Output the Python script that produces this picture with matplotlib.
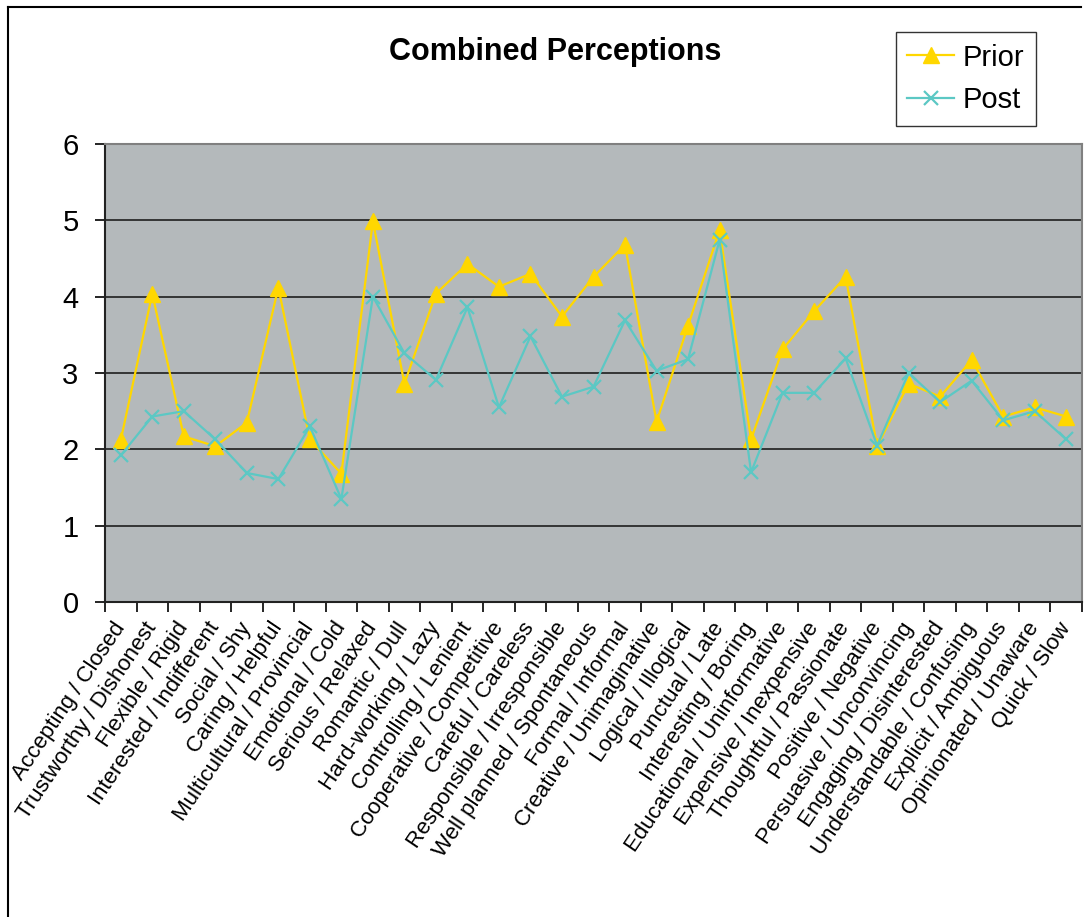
import matplotlib
matplotlib.use("Agg")
import matplotlib.pyplot as plt
from matplotlib.lines import Line2D

plt.rcParams['font.family'] = ['Liberation Sans', 'DejaVu Sans']

W, H = 1090, 917

categories = [
    "Accepting / Closed", "Trustworthy / Dishonest", "Flexible / Rigid",
    "Interested / Indifferent", "Social / Shy", "Caring / Helpful",
    "Multicultural / Provincial", "Emotional / Cold", "Serious / Relaxed",
    "Romantic / Dull", "Hard-working / Lazy", "Controlling / Lenient",
    "Cooperative / Competitive", "Careful / Careless", "Responsible / Irresponsible",
    "Well planned / Spontaneous", "Formal / Informal", "Creative / Unimaginative",
    "Logical / Illogical", "Punctual / Late", "Interesting / Boring",
    "Educational / Uninformative", "Expensive / Inexpensive", "Thoughtful / Passionate",
    "Positive / Negative", "Persuasive / Unconvincing", "Engaging / Disinterested",
    "Understandable / Confusing", "Explicit / Ambiguous", "Opinionated / Unaware",
    "Quick / Slow",
]

prior = [2.12, 4.04, 2.17, 2.04, 2.35, 4.12, 2.13, 1.68, 4.99, 2.86,
         4.04, 4.43, 4.13, 4.30, 3.74, 4.26, 4.68, 2.36, 3.62, 4.87,
         2.13, 3.31, 3.81, 4.26, 2.04, 2.86, 2.69, 3.17, 2.43, 2.55, 2.43]

post = [1.92, 2.43, 2.50, 2.13, 1.69, 1.61, 2.30, 1.35, 4.00, 3.26,
        2.91, 3.86, 2.55, 3.48, 2.69, 2.82, 3.69, 3.03, 3.18, 4.74,
        1.70, 2.74, 2.74, 3.19, 2.05, 3.00, 2.62, 2.90, 2.38, 2.50, 2.13]

yticks = [0, 1, 2, 3, 4, 5, 6]

fig = plt.figure(figsize=(W / 100, H / 100), dpi=100)
ax = fig.add_axes([105 / W, 1 - 602 / H, (1082 - 105) / W, (602 - 144) / H])
ax.set_facecolor('#B4B9BB')

x = list(range(len(categories)))
ax.plot(x, prior, color='#FFD700', lw=1.6, marker='^', ms=11,
        mec='#FFD700', mfc='#FFD700', label='Prior', zorder=3)
ax.plot(x, post, color='#5CC8C4', lw=1.6, marker='x', ms=10, mew=1.6,
        label='Post', zorder=3)

ax.set_xlim(-0.5, len(categories) - 0.5)
ax.set_ylim(0, 6)
ax.set_yticks(yticks)
ax.set_yticklabels([str(v) for v in yticks], fontsize=21)
ax.yaxis.grid(True, color='#111111', lw=1.1)
ax.set_axisbelow(True)

# ticks on category boundaries, labels at centres
ax.set_xticks([i - 0.5 for i in range(len(categories) + 1)])
ax.set_xticklabels([])
ax.set_xticks(x, minor=True)
ax.set_xticklabels(categories, minor=True, rotation=56, ha='right', va='center',
                   rotation_mode='anchor', fontsize=16)
ax.tick_params(axis='x', which='minor', length=0, pad=16)
ax.tick_params(axis='x', which='major', length=7, width=1.2, direction='out')
ax.tick_params(axis='y', length=7, width=1.2, direction='out', pad=12)

for side in ['left', 'bottom']:
    ax.spines[side].set_color('#222222')
    ax.spines[side].set_linewidth(1.5)
for side in ['top', 'right']:
    ax.spines[side].set_color('#808080')
    ax.spines[side].set_linewidth(1.5)

fig.text(555 / W, 1 - 52 / H, "Combined Perceptions", fontsize=22,
         fontweight='bold', ha='center', va='center')

leg = fig.legend(loc='upper right', bbox_to_anchor=(1036 / W, 1 - 32 / H),
                 fontsize=21, frameon=True, fancybox=False, handlelength=1.6,
                 borderpad=0.4, labelspacing=0.5, handletextpad=0.3,
                 borderaxespad=0)
leg.get_frame().set_edgecolor('black')
leg.get_frame().set_linewidth(1.0)

# outer chart frame (partly cropped in the original)
fig.add_artist(Line2D([8 / W, 8 / W], [0, 1 - 7 / H], color='black', lw=1.5))
fig.add_artist(Line2D([8 / W, 1081 / W], [1 - 7 / H, 1 - 7 / H], color='black', lw=1.5))

fig.savefig('out.png', dpi=100)
